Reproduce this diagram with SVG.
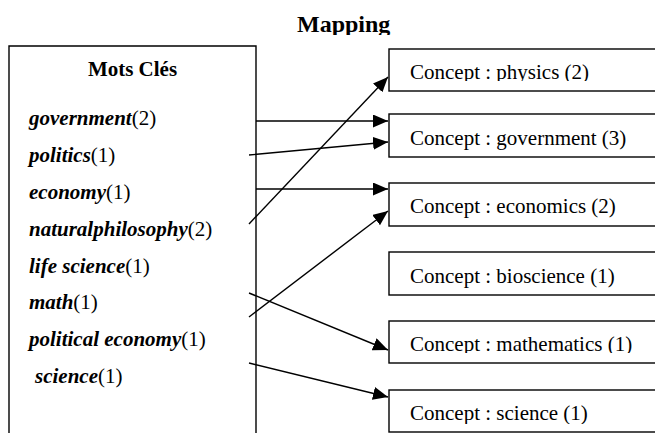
<svg xmlns="http://www.w3.org/2000/svg" width="655" height="433" viewBox="0 0 655 433">
<style>
text{font-family:"Liberation Serif","Times New Roman",serif;fill:#000}
.kw{font-size:21px}
.kw .b{font-weight:bold;font-style:italic}
.box{fill:#fff;stroke:#000;stroke-width:1.4}
.con{font-size:21px}
.ln{stroke:#000;stroke-width:1.4;fill:none}
</style>
<defs>
<marker id="ah" markerUnits="userSpaceOnUse" markerWidth="16" markerHeight="14" refX="15" refY="6.5" orient="auto">
<path d="M0,0 L15,6.5 L0,13 z" fill="#000"/>
</marker>
<clipPath id="cMap"><rect x="0" y="0" width="655" height="35"/></clipPath>
<clipPath id="c1"><rect x="389" y="49" width="266" height="32"/></clipPath>
<clipPath id="c5"><rect x="389" y="321" width="266" height="32"/></clipPath>
<clipPath id="c6"><rect x="389" y="390" width="266" height="34"/></clipPath>
</defs>
<rect width="655" height="433" fill="#fff"/>
<text x="297" y="32" font-size="24" font-weight="bold" clip-path="url(#cMap)">Mapping</text>
<g id="motscles">
<path class="ln" d="M9,440 V46 H256 V440"/>
<text x="132.5" y="76" font-size="21" font-weight="bold" text-anchor="middle">Mots Clés</text>
<text class="kw" x="29" y="125"><tspan class="b">government</tspan>(2)</text>
<text class="kw" x="29" y="162"><tspan class="b">politics</tspan>(1)</text>
<text class="kw" x="29" y="199"><tspan class="b">economy</tspan>(1)</text>
<text class="kw" x="29" y="236"><tspan class="b">naturalphilosophy</tspan>(2)</text>
<text class="kw" x="29" y="273"><tspan class="b">life science</tspan>(1)</text>
<text class="kw" x="29" y="309"><tspan class="b">math</tspan>(1)</text>
<text class="kw" x="29" y="346"><tspan class="b">political economy</tspan>(1)</text>
<text class="kw" x="35" y="383"><tspan class="b">science</tspan>(1)</text>
</g>
<g id="physics"><rect class="box" x="389" y="49" width="280" height="42"/><text class="con" x="410" y="79" clip-path="url(#c1)">Concept : physics (2)</text></g>
<g id="government"><rect class="box" x="389" y="114" width="280" height="43"/><text class="con" x="410" y="145">Concept : government (3)</text></g>
<g id="economics"><rect class="box" x="389" y="183" width="280" height="43"/><text class="con" x="410" y="213">Concept : economics (2)</text></g>
<g id="bioscience"><rect class="box" x="389" y="252" width="280" height="43"/><text class="con" x="410" y="283">Concept : bioscience (1)</text></g>
<g id="mathematics"><rect class="box" x="389" y="321" width="280" height="42"/><text class="con" x="410" y="351" clip-path="url(#c5)">Concept : mathematics (1)</text></g>
<g id="science"><rect class="box" x="389" y="390" width="280" height="42"/><text class="con" x="410" y="420" clip-path="url(#c6)">Concept : science (1)</text></g>
<g id="connectors">
<line class="ln" x1="256" y1="121" x2="388" y2="121" marker-end="url(#ah)"/>
<line class="ln" x1="249" y1="155" x2="388" y2="142" marker-end="url(#ah)"/>
<line class="ln" x1="256" y1="189" x2="388" y2="189" marker-end="url(#ah)"/>
<line class="ln" x1="249" y1="224" x2="388" y2="77" marker-end="url(#ah)"/>
<line class="ln" x1="249" y1="317" x2="388" y2="211" marker-end="url(#ah)"/>
<line class="ln" x1="249" y1="293" x2="388" y2="350" marker-end="url(#ah)"/>
<line class="ln" x1="249" y1="363" x2="388" y2="397" marker-end="url(#ah)"/>
</g>
</svg>
